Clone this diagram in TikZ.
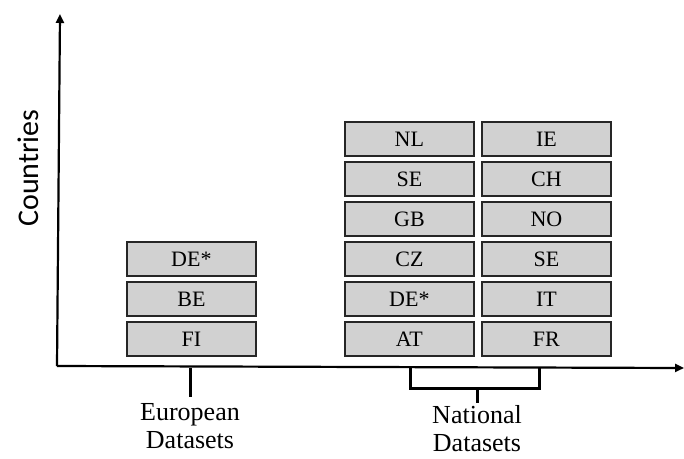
\documentclass[tikz,border=0pt]{standalone}
\usepackage{fontspec}
\setmainfont{Liberation Serif}
\newfontfamily\calib{Carlito}
\usetikzlibrary{arrows.meta}
\begin{document}
\begin{tikzpicture}[x=1pt,y=-1pt,
  cbox/.style={draw=black!85,line width=1.8pt,fill=black!18,minimum width=129pt,minimum height=34pt,inner sep=0pt,font=\fontsize{22}{23}\selectfont,anchor=north west},
  axis/.style={line width=2.2pt,-{Triangle[length=9pt,width=8pt]}},
  brk/.style={line width=3pt},
  lbl/.style={align=center,font=\fontsize{26}{28}\selectfont,inner sep=0pt}]
\useasboundingbox (0,0) rectangle (684,458);
% axes
\coordinate (o) at (57,366);
\coordinate (ytip) at (60,14);
\coordinate (xtip) at (684,368);
\draw[axis] (o) -- (ytip);
\draw[axis] (o) -- (xtip);
\node[font=\calib\fontsize{30}{32}\selectfont,rotate=90] (ylab) at (28,168) {Countries};
% European
\node[cbox] (eu1) at (126,241) {DE*};
\node[cbox] (eu2) at (126,281) {BE};
\node[cbox] (eu3) at (126,321) {FI};
% National col 1
\node[cbox] (a1) at (344,121) {NL};
\node[cbox] (a2) at (344,161) {SE};
\node[cbox] (a3) at (344,201) {GB};
\node[cbox] (a4) at (344,241) {CZ};
\node[cbox] (a5) at (344,281) {DE*};
\node[cbox] (a6) at (344,321) {AT};
% National col 2
\node[cbox] (b1) at (481,121) {IE};
\node[cbox] (b2) at (481,161) {CH};
\node[cbox] (b3) at (481,201) {NO};
\node[cbox] (b4) at (481,241) {SE};
\node[cbox] (b5) at (481,281) {IT};
\node[cbox] (b6) at (481,321) {FR};
% brackets
\coordinate (et1) at (190,368);
\coordinate (et2) at (190,397);
\draw[brk] (et1) -- (et2);
\coordinate (n1) at (410,367);
\coordinate (n2) at (410,388);
\coordinate (n3) at (539,388);
\coordinate (n4) at (539,367);
\coordinate (nc1) at (477,388);
\coordinate (nc2) at (477,403);
\draw[brk] (n1) -- (n2) -- (n3) -- (n4);
\draw[brk] (nc1) -- (nc2);
\node[lbl,anchor=north] (eulab) at (190,403) {European\\Datasets};
\node[lbl,anchor=north] (nalab) at (477,405) {National\\Datasets};
\end{tikzpicture}
\end{document}
